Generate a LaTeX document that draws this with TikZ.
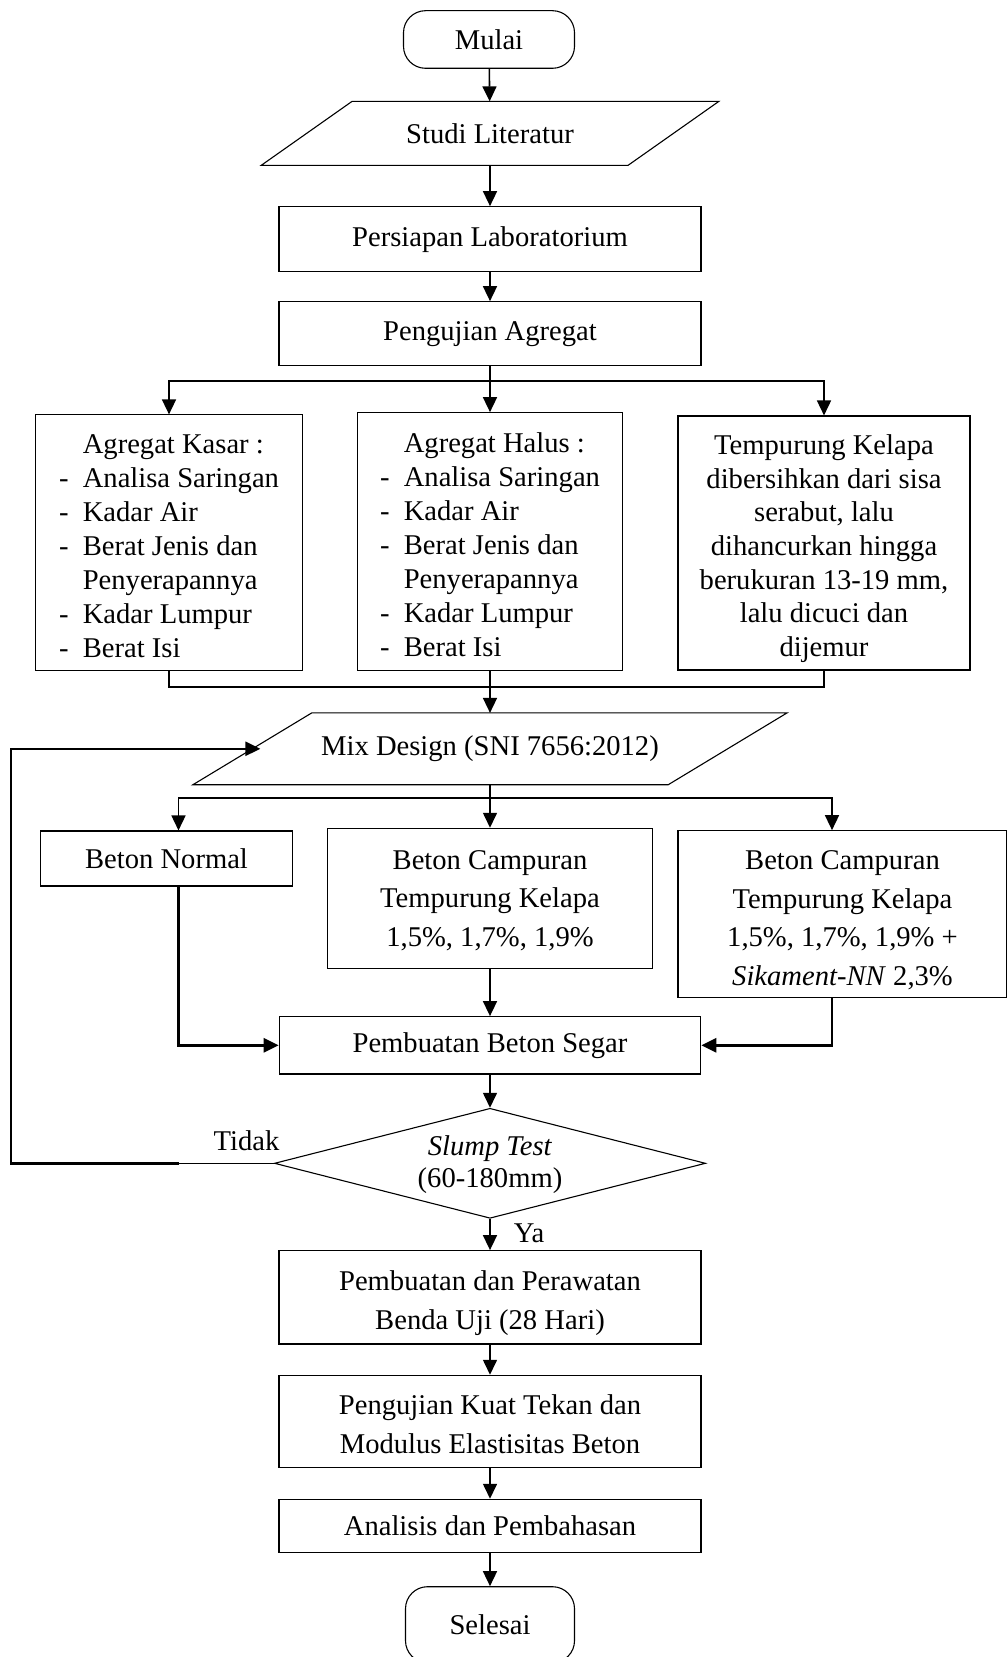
\documentclass[tikz,border=0pt]{standalone}
\usepackage{fontspec}
\setmainfont{Liberation Serif}
\usetikzlibrary{shapes.geometric,arrows.meta}
\newcommand{\fcitem}[1]{\makebox[11.9pt][l]{-}#1}
\newcommand{\fccont}[1]{\hspace*{11.9pt}#1}
\newcommand{\fcstrut}[1]{\rule{0pt}{#1}}
\begin{document}
\begin{tikzpicture}[x=0.5pt,y=-0.5pt,
  every node/.style={font=\fontsize{14.3}{19.25}\selectfont},
  box/.style={draw,line width=0.55pt,inner sep=0pt,align=center},
  listbox/.style={box,align=left,font=\fontsize{14.3}{16.95}\selectfont},
  term/.style={box,rounded corners=11pt},
  iobody/.style={inner sep=0pt,align=center},
  arr/.style={-{Triangle[length=7.5pt,width=7pt]},line width=0.8pt},
  thickarr/.style={arr,line width=1.3pt},
  ln/.style={line width=0.55pt},
  lbl/.style={inner sep=0pt}
]
\useasboundingbox (0,0) rectangle (1006,1657);

\node[term,minimum width=85.5pt,minimum height=28.8pt] (mulai) at (489,39.5) {Mulai};

\node[iobody,minimum width=183pt,minimum height=31.65pt] (studi) at (490,133.4) {Studi Literatur};
\draw[ln] ([xshift=-22.75pt]studi.south west) -- ([xshift=22.75pt]studi.north west)
  -- ([xshift=22.75pt]studi.north east) -- ([xshift=-22.75pt]studi.south east) -- cycle;

\node[box,minimum width=211pt,minimum height=32.5pt] (persiapan) at (490,239.2) {Persiapan Laboratorium};
\node[box,minimum width=211pt,minimum height=32pt] (pengujian) at (490,333.7) {Pengujian Agregat};

\node[listbox,minimum width=133.75pt,minimum height=127.85pt] (kasar) at (169,542.8)
  {\fccont{\fcstrut{12.8pt}Agregat Kasar :}\\\fcitem{Analisa Saringan}\\\fcitem{Kadar Air}\\\fcitem{Berat Jenis dan}\\\fccont{Penyerapannya}\\\fcitem{Kadar Lumpur}\\\fcitem{Berat Isi}};
\node[listbox,minimum width=132.5pt,minimum height=129pt] (halus) at (490,541.7)
  {\fccont{\fcstrut{12.8pt}Agregat Halus :}\\\fcitem{Analisa Saringan}\\\fcitem{Kadar Air}\\\fcitem{Berat Jenis dan}\\\fccont{Penyerapannya}\\\fcitem{Kadar Lumpur}\\\fcitem{Berat Isi}};
\node[box,font=\fontsize{14.3}{16.8}\selectfont,minimum width=146pt,minimum height=127pt] (tempurung) at (824,543)
  {\fcstrut{15.5pt}Tempurung Kelapa\\dibersihkan dari sisa\\serabut, lalu\\dihancurkan hingga\\berukuran 13-19 mm,\\lalu dicuci dan\\dijemur};

\node[iobody,minimum width=237.25pt,minimum height=35.5pt] (mix) at (490,748.8) {Mix Design (SNI 7656:2012)};
\draw[ln] ([xshift=-29.7pt]mix.south west) -- ([xshift=29.7pt]mix.north west)
  -- ([xshift=29.7pt]mix.north east) -- ([xshift=-29.7pt]mix.south east) -- cycle;

\node[box,minimum width=126.1pt,minimum height=27.5pt] (normal) at (166.5,858.5) {Beton Normal};
\node[box,minimum width=162.3pt,minimum height=70pt] (campuran) at (490,898.3)
  {\fcstrut{11.5pt}Beton Campuran\\Tempurung Kelapa\\1,5\%, 1,7\%, 1,9\%};
\node[box,minimum width=164.5pt,minimum height=83.3pt] (sika) at (842.5,914)
  {\fcstrut{15.8pt}Beton Campuran\\Tempurung Kelapa\\1,5\%, 1,7\%, 1,9\% +\\\textit{Sikament-NN} 2,3\%};

\node[box,minimum width=210.8pt,minimum height=28.65pt] (segar) at (490,1045.3) {Pembuatan Beton Segar};

\node[draw,line width=0.55pt,diamond,inner sep=0pt,minimum width=215.6pt,minimum height=55pt] (slump) at (490,1163.3) {};
\node[align=center,inner sep=0pt,font=\fontsize{14.3}{16}\selectfont] (slumptext) at (490,1165) {\textit{Slump Test}\\(60-180mm)};
\node[lbl] (tidak) at (246.5,1141) {Tidak};
\node[lbl] (ya) at (529,1233) {Ya};

\node[box,minimum width=211pt,minimum height=46.65pt] (rawat) at (490,1297.3) {\fcstrut{15.5pt}Pembuatan dan Perawatan\\Benda Uji (28 Hari)};
\node[box,minimum width=211pt,minimum height=46pt] (kuat) at (490,1421.3) {\fcstrut{12.8pt}Pengujian Kuat Tekan dan\\Modulus Elastisitas Beton};
\node[box,minimum width=211pt,minimum height=26.7pt] (analisis) at (490,1526) {Analisis dan Pembahasan};
\node[term,minimum width=84.5pt,minimum height=38pt] (selesai) at (490,1624.7) {Selesai};

\coordinate (b1) at (490,381);
\coordinate (j1) at (490,687);
\coordinate (b2) at (490,797.7);
\coordinate (fb1) at (179,1163.3);
\coordinate (fb2) at (11,1163.3);

\draw[arr] (mulai) -- (studi);
\draw[arr] (studi) -- (persiapan);
\draw[arr] (persiapan) -- (pengujian);
\draw[arr] (pengujian) -- (halus);
\draw[arr] (b1) -| (kasar.north);
\draw[arr] (b1) -| (tempurung.north);
\draw[ln] (kasar.south) |- (j1) -| (tempurung.south);
\draw[arr] (halus) -- (mix);
\draw[arr] (mix) -- (campuran);
\draw[arr] (b2) -| ([xshift=6pt]normal.north);
\draw[arr] (b2) -| ([xshift=-5.25pt]sika.north);
\draw[thickarr] ([xshift=6pt]normal.south) |- (segar.west);
\draw[thickarr] ([xshift=-5.25pt]sika.south) |- (segar.east);
\draw[arr] (campuran) -- (segar);
\draw[arr] (segar) -- (slump);
\draw[arr] (slump) -- (rawat);
\draw[ln] (slump.west) -- (fb1);
\draw[thickarr] (fb1) -- (fb2) |- ([xshift=4pt]mix.west);
\draw[arr] (rawat) -- (kuat);
\draw[arr] (kuat) -- (analisis);
\draw[arr] (analisis) -- (selesai);
\end{tikzpicture}
\end{document}
